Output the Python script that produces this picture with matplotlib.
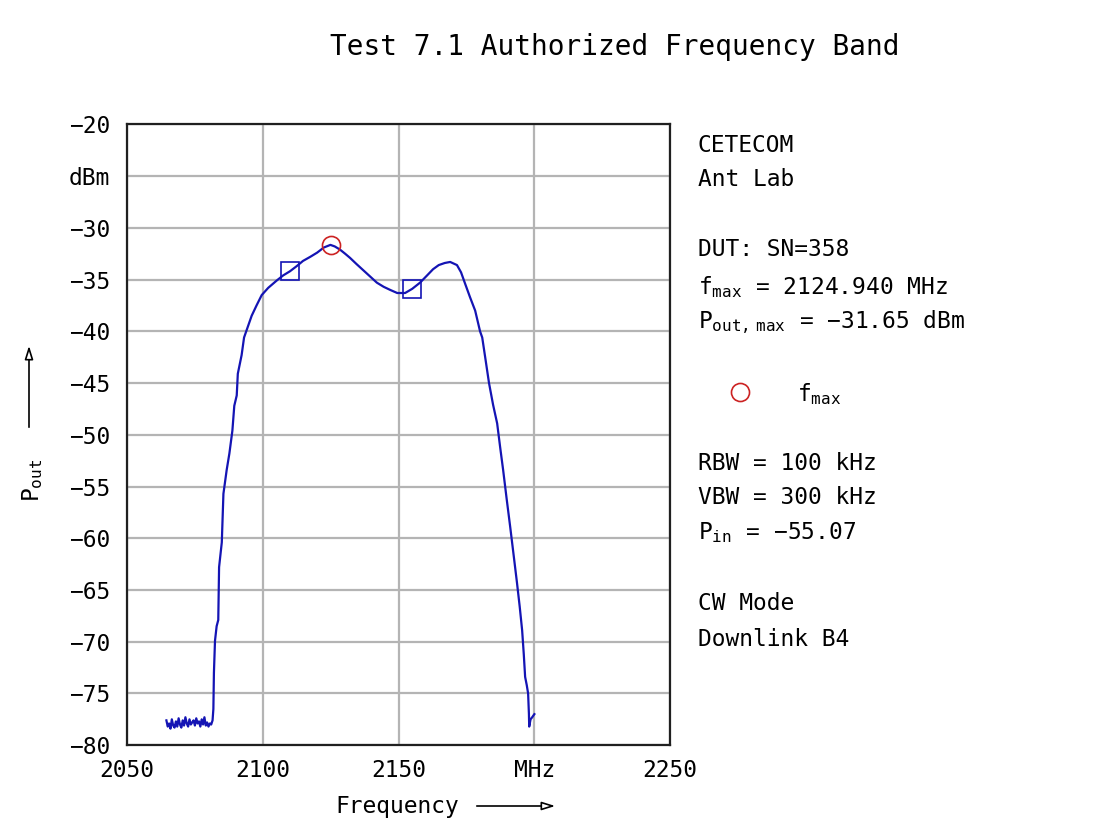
import matplotlib
matplotlib.use("Agg")
import matplotlib.pyplot as plt

plt.rcParams['font.family'] = ['DejaVu Sans Mono']
plt.rcParams['mathtext.fontset'] = 'custom'
plt.rcParams['mathtext.rm'] = 'DejaVu Sans Mono'
plt.rcParams['mathtext.it'] = 'DejaVu Sans Mono'

# measured spectrum (MHz, dBm)
freq = [2064.5, 2065.0, 2065.5, 2066.0, 2066.5, 2067.0, 2067.5, 2068.0, 2068.5, 2069.0,
        2069.5, 2070.0, 2070.5, 2071.0, 2071.5, 2072.0, 2072.5, 2073.0, 2073.5, 2074.0,
        2074.5, 2075.0, 2075.5, 2076.0, 2076.5, 2077.0, 2077.5, 2078.0, 2078.5, 2079.0,
        2079.5, 2080.0, 2080.5, 2081.0, 2081.5,
        2081.8, 2082.0, 2082.4, 2083.0, 2083.6, 2083.9, 2084.9, 2085.5, 2086.7, 2087.7,
        2088.8, 2089.5, 2090.4, 2090.8, 2092.2, 2093.1, 2094.7, 2095.9, 2097.7, 2099.6,
        2102.0, 2105.1, 2107.5, 2110.0, 2112.5, 2114.8, 2117.5, 2120.0, 2122.5, 2124.9,
        2126.5, 2128.4, 2130.3, 2132.1, 2134.5, 2137.0, 2139.5, 2142.0, 2144.5, 2146.9,
        2149.5, 2152.4, 2155.0, 2157.9, 2160.5, 2162.7, 2164.8, 2167.0, 2169.0, 2171.5,
        2173.0, 2174.5, 2176.3, 2178.2, 2180.0, 2180.8, 2182.0, 2183.3, 2184.8, 2186.3,
        2187.4, 2188.5, 2189.8, 2191.1, 2192.4, 2193.6, 2194.6, 2195.5, 2196.1, 2196.6,
        2197.2, 2197.7, 2198.0, 2198.1, 2198.6, 2199.2, 2200.0]
p_out = [-77.6, -78.2, -77.9, -78.4, -77.5, -78.1, -78.3, -77.7, -78.2, -77.4,
         -78.0, -78.3, -77.6, -78.1, -77.3, -77.9, -78.2, -77.5, -78.0, -77.8,
         -77.6, -78.1, -77.4, -77.9, -77.7, -78.2, -77.5, -78.0, -77.3, -78.1,
         -77.8, -78.2, -77.9, -78.0, -77.6,
         -76.5, -73.0, -69.9, -68.5, -67.9, -62.8, -60.4, -55.7, -53.4, -51.8,
         -49.6, -47.2, -46.2, -44.1, -42.3, -40.6, -39.4, -38.5, -37.5, -36.5,
         -35.8, -35.1, -34.6, -34.2, -33.7, -33.2, -32.8, -32.4, -31.9, -31.65,
         -31.8, -32.1, -32.5, -32.9, -33.5, -34.1, -34.7, -35.3, -35.7, -36.0,
         -36.3, -36.3, -35.9, -35.3, -34.6, -34.0, -33.6, -33.4, -33.3, -33.6,
         -34.3, -35.4, -36.7, -38.0, -40.0, -40.6, -42.7, -45.0, -47.1, -48.9,
         -51.2, -53.4, -56.2, -58.9, -61.7, -64.3, -66.6, -68.9, -71.2, -73.4,
         -74.2, -75.0, -77.0, -78.2, -77.5, -77.3, -77.0]

band_edges = [2110, 2155]
band_edge_p = [-34.2, -35.9]
f_max = [2124.94]
p_max = [-31.65]

x_ticks = [2050, 2100, 2150, 2200, 2250]
x_labels = ['2050', '2100', '2150', 'MHz', '2250']
y_ticks = [-80, -75, -70, -65, -60, -55, -50, -45, -40, -35, -30, -25, -20]
y_labels = ['\u221280', '\u221275', '\u221270', '\u221265', '\u221260', '\u221255', '\u221250',
            '\u221245', '\u221240', '\u221235', '\u221230', 'dBm', '\u221220']

blue = '#1414b4'
red = '#cc2222'

fig = plt.figure(figsize=(10.95, 8.18), dpi=100)
ax = fig.add_axes([0.116, 0.089, 0.496, 0.759])

ax.plot(freq, p_out, color=blue, lw=1.6)
ax.plot(band_edges, band_edge_p, ls='none', marker='s', ms=13, mfc='none', mec=blue, mew=1.2)
ax.plot(f_max, p_max, ls='none', marker='o', ms=13, mfc='none', mec=red, mew=1.2)

ax.set_xlim(2050, 2250)
ax.set_ylim(-80, -20)
ax.set_xticks(x_ticks)
ax.set_xticklabels(x_labels)
ax.set_yticks(y_ticks)
ax.set_yticklabels(y_labels)
ax.tick_params(length=0, labelsize=16.5)
ax.tick_params(axis='y', pad=12)
ax.tick_params(axis='x', pad=10)
ax.grid(True, color='#b4b4b4', lw=1.6)
ax.set_axisbelow(True)
for s in ax.spines.values():
    s.set_linewidth(1.6)
    s.set_color('#202020')

fig.text(0.5616, 0.9425, 'Test 7.1 Authorized Frequency Band', ha='center', va='center', fontsize=20)

# right side info block
tx = 0.6374
def info(y_px, s):
    fig.text(tx, 1 - y_px / 818, s, ha='left', va='center', fontsize=16.5)

info(145, 'CETECOM')
info(180, 'Ant Lab')
info(250, 'DUT: SN=358')
info(287, r'f$_{\mathrm{max}}$ = 2124.940 MHz')
info(322, 'P$_{\\mathrm{out,\\ max}}$ = \u221231.65 dBm')
info(464, 'RBW = 100 kHz')
info(498, 'VBW = 300 kHz')
info(533, 'P$_{\\mathrm{in}}$ = \u221255.07')
info(604, 'CW Mode')
info(639, 'Downlink B4')

fig.lines.append(plt.Line2D([740 / 1095], [1 - 392 / 818], transform=fig.transFigure,
                            marker='o', ms=13, mfc='none', mec=red, mew=1.2, ls='none'))
fig.text(797 / 1095, 1 - 394 / 818, r'f$_{\mathrm{max}}$', ha='left', va='center', fontsize=16.5)

# axis labels with arrows
fig.text(33 / 1095, 1 - 480 / 818, r'P$_{\mathrm{out}}$', rotation=90, ha='center', va='center', fontsize=16.5)
ax.annotate('', xy=(29 / 1095, 1 - 343 / 818), xytext=(29 / 1095, 1 - 430 / 818),
            xycoords='figure fraction', textcoords='figure fraction',
            arrowprops=dict(arrowstyle='-|>,head_length=0.8,head_width=0.25', fc='white', ec='black', lw=1.2))
fig.text(397 / 1095, 1 - 807 / 818, 'Frequency', ha='center', va='center', fontsize=16.5)
ax.annotate('', xy=(558 / 1095, 1 - 806 / 818), xytext=(474 / 1095, 1 - 806 / 818),
            xycoords='figure fraction', textcoords='figure fraction',
            arrowprops=dict(arrowstyle='-|>,head_length=0.8,head_width=0.25', fc='white', ec='black', lw=1.2))

fig.savefig('out.png', dpi=100)
